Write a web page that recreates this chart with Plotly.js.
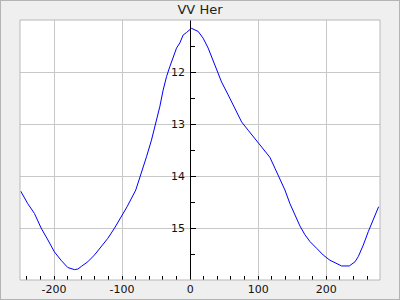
<!DOCTYPE html>
<html>
<head>
<meta charset="utf-8">
<script src="https://cdn.plot.ly/plotly-3.0.1.min.js"></script>
<style>
html,body{margin:0;padding:0;background:#efefef;}
#chart{width:398px;height:298px;border:1px solid #b4b4b4;}
</style>
</head>
<body>
<div id="chart"></div>
<script>
// Phase-like x values and magnitudes
const xValues = [-249, -238.7, -228.8, -219, -209, -199.4, -189.7, -179.8, -170, -165, -160, -150.4, -140.6, -130.9, -121, -111, -101.3, -92.6,
  -79.9, -71.5, -64.1, -56.8, -50.4, -44.6, -39.7, -34.7, -29.9, -25, -20, -15.1, -10.3, -5.3, 2,
  11.8, 19.1, 26.5, 33.8, 41.2, 46.1, 55.9, 65.7, 75.6, 85.3, 95.1, 105, 117.2, 124.6,
  131.9, 139.3, 146.6, 154, 161.3, 168.7, 176, 185.9, 195.6, 205.4, 215.3, 222.6, 233.8, 242.2, 247.1, 254.4, 261.8, 269.1, 277];
const magValues = [14.29, 14.53, 14.72, 15.0, 15.23, 15.46, 15.62, 15.76, 15.80, 15.79, 15.74, 15.65, 15.52, 15.36, 15.20, 15.0, 14.78, 14.59,
  14.27, 13.95, 13.63, 13.31, 12.99, 12.67, 12.35, 12.09, 11.90, 11.71, 11.54, 11.44, 11.29, 11.24, 11.16,
  11.22, 11.35, 11.54, 11.77, 12.03, 12.19, 12.44, 12.70, 12.96, 13.12, 13.28, 13.44, 13.64, 13.85,
  14.06, 14.27, 14.53, 14.75, 14.96, 15.13, 15.26, 15.39, 15.52, 15.62, 15.68, 15.73, 15.73, 15.65, 15.55, 15.33, 15.07, 14.85, 14.59];
const xTicks = [-200, -100, 0, 100, 200];
const xTickLabels = ['-200', '-100', '0', '100', '200'];
const yTicks = [12, 13, 14, 15];
const yTickLabels = ['12', '13', '14', '15'];
const yMinorTicks = [11.5, 12.5, 13.5, 14.5, 15.5];
const titleText = 'VV Her';

const xRange = [-250, 279];
const yRange = [16, 11];
const yPos = (0 - xRange[0]) / (xRange[1] - xRange[0]);

const trace = {
  x: xValues, y: magValues, type: 'scatter', mode: 'lines',
  line: {color: '#0000ff', width: 1}, hoverinfo: 'skip'
};

const layout = {
  width: 398, height: 298,
  margin: {l: 19, r: 19, t: 19, b: 19, pad: 0},
  paper_bgcolor: '#efefef', plot_bgcolor: '#ffffff',
  showlegend: false,
  title: {text: titleText, font: {family: 'DejaVu Sans', size: 13, color: '#222'}, x: 0.5, xanchor: 'center', y: 0.995, yanchor: 'top', yref: 'container', pad: {t: 2}},
  xaxis: {
    range: xRange, tickmode: 'array', tickvals: xTicks, ticktext: xTickLabels,
    ticks: 'inside', ticklen: 4, tickcolor: '#000', tickwidth: 1,
    minor: {dtick: 20, tick0: 0, ticks: 'inside', ticklen: 4, tickcolor: '#000', showgrid: false},
    showgrid: true, gridcolor: '#c8c8c8', gridwidth: 1, zeroline: false, showline: false,
    tickfont: {family: 'DejaVu Sans', size: 11, color: '#111'}, ticklabelstandoff: 1
  },
  yaxis: {
    range: yRange, anchor: 'free', position: yPos, side: 'left',
    tickmode: 'array', tickvals: yTicks, ticktext: yTickLabels,
    ticks: 'inside', ticklen: 5, tickcolor: '#000', tickwidth: 1,
    minor: {tickvals: yMinorTicks, ticks: 'inside', ticklen: 4, tickcolor: '#000', showgrid: false},
    showgrid: true, gridcolor: '#c8c8c8', gridwidth: 1, zeroline: false,
    showline: true, linecolor: '#000', linewidth: 1,
    tickfont: {family: 'DejaVu Sans', size: 11, color: '#111'}, ticklabelstandoff: 3
  },
  shapes: [{type: 'rect', xref: 'paper', yref: 'paper', x0: 0, x1: 1, y0: 0, y1: 1, line: {color: '#b8b8b8', width: 1}, layer: 'above'}]
};

Plotly.newPlot('chart', [trace], layout, {staticPlot: true, displayModeBar: false});
</script>
</body>
</html>
